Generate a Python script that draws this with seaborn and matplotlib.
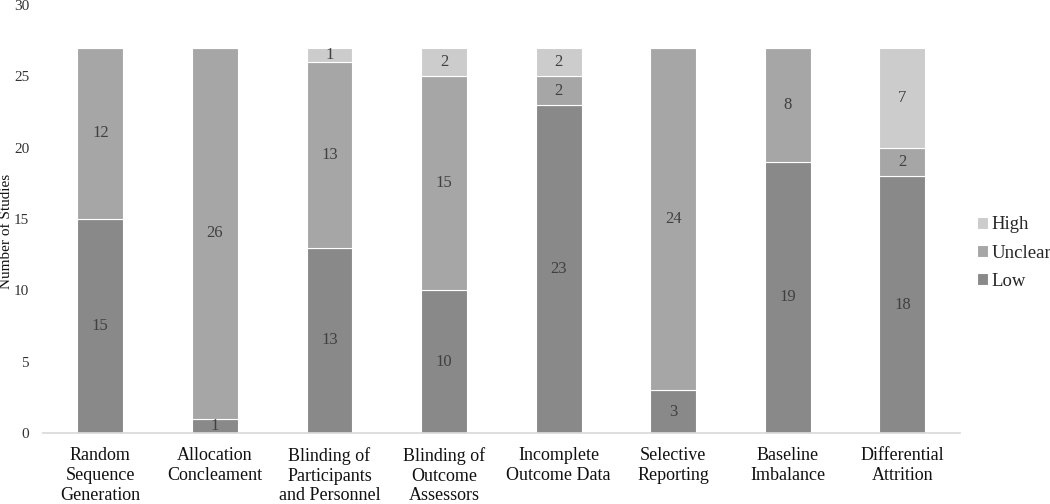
import seaborn as sns
import pandas as pd
import matplotlib.pyplot as plt

categories = ["Random\nSequence\nGeneration", "Allocation\nConcleament",
              "Blinding of\nParticipants\nand Personnel", "Blinding of\nOutcome\nAssessors",
              "Incomplete\nOutcome Data", "Selective\nReporting",
              "Baseline\nImbalance", "Differential\nAttrition"]
low = [15, 1, 13, 10, 23, 3, 19, 18]
unclear = [12, 26, 13, 15, 2, 24, 8, 2]
high = [0, 0, 1, 2, 2, 0, 0, 7]

sns.set_theme(style="white")
plt.rcParams['font.family'] = ['Liberation Serif', 'DejaVu Serif']

df = pd.DataFrame({"cat": categories, "Low": low, "Unclear": unclear, "High": high})
df["bottom_high"] = df["Low"] + df["Unclear"]

fig = plt.figure(figsize=(10.5, 5.04), dpi=100)
ax = fig.add_axes([0.041, 0.141, 0.873, 0.849])

colors = {"Low": "#898989", "Unclear": "#a6a6a6", "High": "#cccccc"}
sns.barplot(df, x="cat", y="Low", color=colors["Low"], width=0.4, ax=ax,
            label="Low", edgecolor="white", linewidth=0.8, saturation=1)
sns.barplot(df, x="cat", y="Unclear", color=colors["Unclear"], width=0.4, ax=ax,
            bottom=df["Low"], label="Unclear", edgecolor="white", linewidth=0.8, saturation=1)
sns.barplot(df, x="cat", y="High", color=colors["High"], width=0.4, ax=ax,
            bottom=df["bottom_high"], label="High", edgecolor="white", linewidth=0.8, saturation=1)

for cont, vals in zip(ax.containers, [low, unclear, high]):
    ax.bar_label(cont, labels=[str(v) if v else "" for v in vals], label_type="center",
                 fontsize=12, color="#404040")

ax.set_ylim(0, 30)
ax.set_xlim(-0.5, 7.5)
ax.set_yticks(range(0, 31, 5))
ax.tick_params(axis="y", labelsize=11, length=0, colors="#333333", pad=10)
ax.tick_params(axis="x", labelsize=13, length=0, colors="#111111", pad=10)
for t in ax.get_xticklabels():
    t.set_linespacing(1.22)
ax.set_xlabel("")
ax.set_ylabel("Number of Studies", fontsize=11, color="#111111")
ax.yaxis.set_label_coords(-0.033, 0.47)
for s in ["top", "right", "left"]:
    ax.spines[s].set_visible(False)
ax.spines["bottom"].set_color("#d9d9d9")

h, l = ax.get_legend_handles_labels()
ax.legend(h[::-1], l[::-1], loc="center left", bbox_to_anchor=(1.0, 0.42), frameon=False,
          fontsize=13.5, handlelength=0.6, handleheight=0.6, handletextpad=0.2, labelspacing=0.6)

plt.savefig("out.png", dpi=100)
